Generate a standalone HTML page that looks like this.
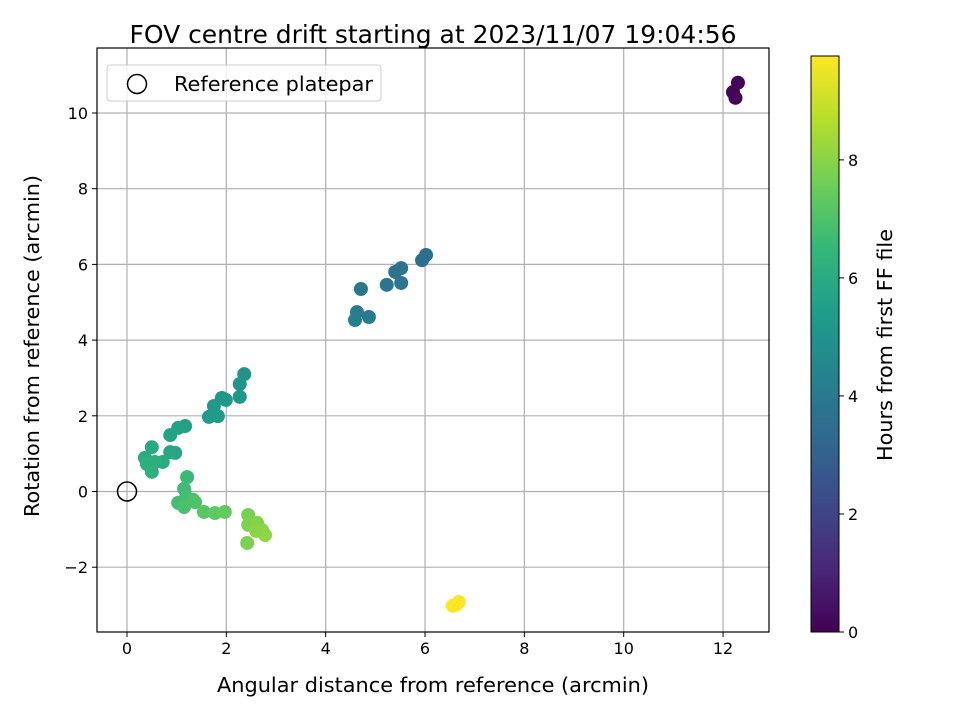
<!DOCTYPE html>
<html><head><meta charset="utf-8"><style>
body{margin:0;background:#fff;font-family:"Liberation Sans","DejaVu Sans",sans-serif}
svg text{font-family:"DejaVu Sans","Liberation Sans",sans-serif;fill:#000}
</style></head><body>
<svg id="chart" width="960" height="720" viewBox="0 0 960 720" xmlns="http://www.w3.org/2000/svg">
<defs><linearGradient id="vir" x1="0" y1="1" x2="0" y2="0"></linearGradient></defs>
<g id="grid"></g><g id="pts"></g><g id="axes"></g>
</svg>
<script>
const xs=[12.2,12.3,12.25, 6.02,5.94,5.52,5.4,5.52,5.23,4.71,4.87,4.63,4.59,
2.36,2.27,2.27,1.91,1.99,1.75,1.83,1.65,1.17,1.03,0.87,0.5,0.87,0.97,0.72,0.36,0.4,0.56,0.5,
1.21,1.15,1.19,1.03,1.33,1.15,1.37,1.55,1.77,1.97,
2.44,2.44,2.62,2.72,2.78,2.42,2.6, 6.68,6.62,6.56];
const ys=[10.55,10.8,10.4, 6.25,6.11,5.9,5.8,5.51,5.46,5.35,4.61,4.74,4.53,
3.1,2.84,2.5,2.47,2.42,2.26,1.99,1.97,1.73,1.68,1.49,1.17,1.04,1.02,0.78,0.89,0.73,0.78,0.52,
0.38,0.07,-0.15,-0.3,-0.22,-0.41,-0.28,-0.54,-0.57,-0.54,
-0.62,-0.88,-0.83,-1.02,-1.15,-1.36,-1.04, -2.92,-3.0,-3.02];
const hours=[0.1,0.05,0.15, 3.5,3.6,3.7,3.75,3.8,3.85,3.9,4.0,4.1,4.2,
5.0,5.05,5.1,5.15,5.2,5.25,5.3,5.3,5.5,5.6,5.7,5.9,5.8,5.8,6.0,6.0,6.1,6.1,6.2,
6.6,6.7,6.8,6.8,6.9,6.9,7.0,7.2,7.3,7.4,
7.7,7.8,7.9,8.0,8.1,7.8,8.0, 9.7,9.75,9.8];
const xTicks=[0,2,4,6,8,10,12];
const yTicks=[-2,0,2,4,6,8,10];
const cTicks=[0,2,4,6,8];
const NS="http://www.w3.org/2000/svg";
const L=97,R=769,T=48,B=632;
const X=v=>127+v*49.67, Y=v=>491.5-v*37.85;
const CB={x:811,w:28,top:56,bot:632,max:9.76};
const CY=v=>CB.bot-v/CB.max*(CB.bot-CB.top);
const vir=["#440154","#482878","#3e4989","#31688e","#26828e","#1f9e89","#35b779","#6ece58","#b5de2b","#fde725"];
function hex(h){return [1,3,5].map(i=>parseInt(h.substr(i,2),16));}
function cmap(t){t=Math.max(0,Math.min(1,t))*(vir.length-1);const i=Math.min(vir.length-2,Math.floor(t)),f=t-i;
const a=hex(vir[i]),b=hex(vir[i+1]);return "rgb("+a.map((v,k)=>Math.round(v+(b[k]-v)*f)).join(",")+")";}
function mk(tag,at,parent){const e=document.createElementNS(NS,tag);for(const k in at)e.setAttribute(k,at[k]);(parent||document.getElementById("chart")).appendChild(e);return e;}
const grid=document.getElementById("grid"),pts=document.getElementById("pts"),ax=document.getElementById("axes");
const grad=document.getElementById("vir");
vir.forEach((c,i)=>mk("stop",{offset:(i/(vir.length-1)*100)+"%","stop-color":c},grad));
xTicks.forEach(v=>{const l=mk("line",{x1:X(v),x2:X(v),y1:T,y2:B,stroke:"#b0b0b0","stroke-width":1.2},grid);


mk("line",{x1:X(v),x2:X(v),y1:B,y2:B+5,stroke:"#000"},ax);
const t=mk("text",{x:X(v),y:B+22,"text-anchor":"middle","font-size":16},ax);t.textContent=v;

});
yTicks.forEach(v=>{const l=mk("line",{x1:L,x2:R,y1:Y(v),y2:Y(v),stroke:"#b0b0b0","stroke-width":1.2},grid);


mk("line",{x1:L-5,x2:L,y1:Y(v),y2:Y(v),stroke:"#000"},ax);
const t=mk("text",{x:L-9,y:Y(v)+6,"text-anchor":"end","font-size":16},ax);t.textContent=v<0?"\u2212"+(-v):v;

});
xs.forEach((v,i)=>{const c=mk("circle",{cx:X(v),cy:Y(ys[i]),r:7,fill:cmap(hours[i]/CB.max)},pts);

});
const ref=mk("circle",{cx:X(0),cy:Y(0),r:9.5,fill:"none",stroke:"#000","stroke-width":1.5},pts);


const fr=mk("rect",{x:L,y:T,width:R-L,height:B-T,fill:"none",stroke:"#000","stroke-width":1.2},ax);


const cb=mk("rect",{x:CB.x,y:CB.top,width:CB.w,height:CB.bot-CB.top,fill:"url(#vir)",stroke:"#000","stroke-width":1},ax);


cTicks.forEach(v=>{mk("line",{x1:CB.x+CB.w,x2:CB.x+CB.w+5,y1:CY(v),y2:CY(v),stroke:"#000"},ax);
const t=mk("text",{x:CB.x+CB.w+9,y:CY(v)+6,"font-size":16},ax);t.textContent=v;

});
</script>
<svg style="position:absolute;left:0;top:0" width="960" height="720">
<text x="433" y="43" text-anchor="middle" font-size="25" textLength="607" lengthAdjust="spacingAndGlyphs">FOV centre drift starting at 2023/11/07 19:04:56</text>
<text x="433" y="692" text-anchor="middle" font-size="20.5" textLength="432" lengthAdjust="spacingAndGlyphs">Angular distance from reference (arcmin)</text>
<text transform="translate(39,346) rotate(-90)" text-anchor="middle" font-size="20.5" textLength="342" lengthAdjust="spacingAndGlyphs">Rotation from reference (arcmin)</text>
<text transform="translate(892,345) rotate(-90)" text-anchor="middle" font-size="20.5" textLength="232" lengthAdjust="spacingAndGlyphs">Hours from first FF file</text>
<g>
<rect x="107" y="65" width="274" height="36" rx="3" fill="#fff" fill-opacity="0.8" stroke="#ccc"/>
<circle cx="137" cy="84" r="9.5" fill="none" stroke="#000" stroke-width="1.5"/>
<text x="174" y="91" font-size="20.5" textLength="199" lengthAdjust="spacingAndGlyphs">Reference platepar</text>
</g>
</svg>
</body></html>
